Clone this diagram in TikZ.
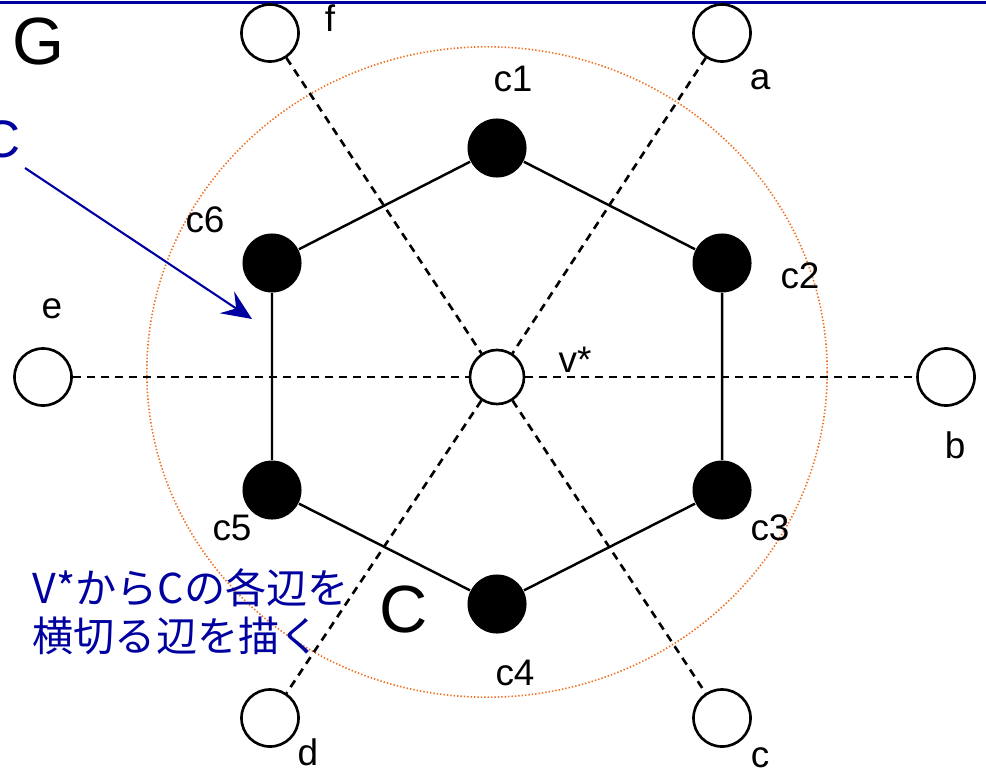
\documentclass[tikz,border=0pt]{standalone}
\usepackage{fontspec}
\setmainfont{Liberation Sans}
\newfontfamily\jpfont{Noto Sans CJK JP}
\usetikzlibrary{arrows.meta}
\definecolor{slideblue}{HTML}{0000A0}
\definecolor{dotorange}{HTML}{F07020}

\begin{document}
\begin{tikzpicture}[x=0.01cm,y=-0.01cm,
  vtx/.style={circle,draw,line width=0.75pt,fill=white,minimum size=0.57cm,inner sep=0pt},
  centre/.style={vtx,minimum size=0.54cm},
  cyc/.style={circle,fill=black,minimum size=0.59cm,inner sep=0pt},
  lbl/.style={font=\fontsize{10.5}{12}\selectfont,inner sep=0pt,anchor=base},
  biglbl/.style={font=\fontsize{19}{22}\selectfont,inner sep=0pt,anchor=base},
  jptext/.style={font=\jpfont\fontsize{11.7}{14}\selectfont,text=slideblue,inner sep=0pt,anchor=base west},
  cutedge/.style={dash pattern=on 0.08cm off 0.06cm,line width=0.75pt},
  cycedge/.style={line width=0.7pt},
  pointer/.style={slideblue,line width=0.6pt,-{Stealth[length=0.3cm,width=0.26cm,inset=0.11cm]}}]
  \useasboundingbox (0,0) rectangle (986,770);
  \draw[slideblue,line width=0.03cm] (0,2.5) -- (986,2.5);
  % dotted boundary of C
  \draw[dotorange,line width=0.016cm,dash pattern=on 0.014cm off 0.02cm] (487,372) ellipse [x radius=3.40cm,y radius=3.25cm];
  % outer vertices
  \node[vtx] (f) at (270,33) {};
  \node[vtx] (a) at (722,33) {};
  \node[vtx] (e) at (43,377) {};
  \node[vtx] (b) at (946,377) {};
  \node[vtx] (d) at (270,718) {};
  \node[vtx] (c) at (722,718) {};
  \node[centre] (v) at (497,377) {};
  % cycle C
  \node[cyc] (c1) at (497,148) {};
  \node[cyc] (c2) at (722,263) {};
  \node[cyc] (c3) at (722,490) {};
  \node[cyc] (c4) at (497,604) {};
  \node[cyc] (c5) at (272,490) {};
  \node[cyc] (c6) at (272,263) {};
  \draw[cycedge] (c1) -- (c2) -- (c3) -- (c4) -- (c5) -- (c6) -- (c1);
  \draw[cutedge] (f) -- (v) -- (c);
  \draw[cutedge] (a) -- (v) -- (d);
  \draw[cutedge] (e) -- (v) -- (b);
  % labels
  \node[biglbl] (gname) at (38,65) {G};
  \node[biglbl] (cyname) at (404,632) {C};
  \node[lbl] (lf) at (330,32) {f};
  \node[lbl] (la) at (760,90) {a};
  \node[lbl] (lc1) at (513,92) {c1};
  \node[lbl] (lc6) at (205,232) {c6};
  \node[lbl] (lc2) at (800,288) {c2};
  \node[lbl] (le) at (52,318) {e};
  \node[lbl,fill=white,inner sep=1pt] (lv) at (575,372) {v*};
  \node[lbl] (lb) at (955,458) {b};
  \node[lbl] (lc5) at (232,540) {c5};
  \node[lbl] (lc3) at (770,540) {c3};
  \node[lbl] (lc4) at (515,685) {c4};
  \node[lbl] (ld) at (308,765) {d};
  \node[lbl] (lc) at (760,767) {c};
  % note
  \node[font=\fontsize{15}{18}\selectfont,text=slideblue,inner sep=0pt,anchor=base east] (cname) at (21,157) {C};
  \coordinate (arrfrom) at (25,168);
  \coordinate (arrto) at (252,319);
  \draw[pointer] (arrfrom) -- (arrto);
  \node[jptext] (note1) at (32,603) {V*からCの各辺を};
  \node[jptext] (note2) at (32,651) {横切る辺を描く};
\end{tikzpicture}
\end{document}
